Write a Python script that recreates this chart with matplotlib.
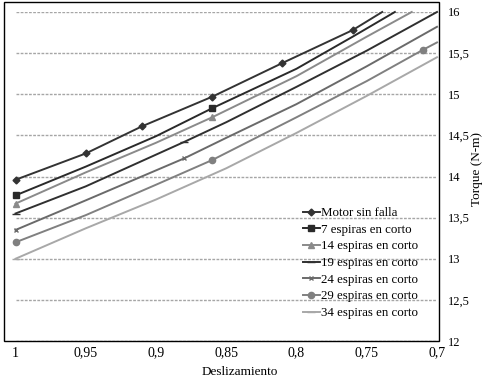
import matplotlib.pyplot as plt
from matplotlib.patches import Rectangle

plt.rcParams['font.family'] = ['Liberation Serif', 'DejaVu Serif']

# slip values and torque (N-m)
x_motor = [1, 0.95, 0.91, 0.86, 0.81, 0.76, 0.739]
y_motor = [13.96, 14.28, 14.61, 14.97, 15.38, 15.78, 16.0]

x_7 = [1, 0.95, 0.9, 0.86, 0.8, 0.76, 0.73]
y_7 = [13.77, 14.12, 14.49, 14.83, 15.31, 15.70, 16.0]

x_14 = [1, 0.95, 0.9, 0.86, 0.8, 0.75, 0.718]
y_14 = [13.67, 14.05, 14.41, 14.72, 15.22, 15.70, 16.0]

x_19 = [1, 0.95, 0.88, 0.85, 0.8, 0.75, 0.7]
y_19 = [13.55, 13.88, 14.42, 14.66, 15.09, 15.53, 16.0]

x_24 = [1, 0.95, 0.88, 0.85, 0.8, 0.75, 0.7]
y_24 = [13.35, 13.71, 14.22, 14.47, 14.88, 15.34, 15.82]

x_29 = [1, 0.95, 0.9, 0.86, 0.8, 0.75, 0.71, 0.7]
y_29 = [13.20, 13.53, 13.90, 14.20, 14.72, 15.16, 15.54, 15.63]

x_34 = [1, 0.95, 0.9, 0.85, 0.8, 0.75, 0.7]
y_34 = [13.00, 13.37, 13.72, 14.10, 14.53, 14.98, 15.45]

labels = ['Motor sin falla', '7 espiras en corto', '14 espiras en corto',
          '19 espiras en corto', '24 espiras en corto', '29 espiras en corto',
          '34 espiras en corto']
xticks = [1, 0.95, 0.9, 0.85, 0.8, 0.75, 0.7]
xtick_labels = ['1', '0,95', '0,9', '0,85', '0,8', '0,75', '0,7']
yticks = [12, 12.5, 13, 13.5, 14, 14.5, 15, 15.5, 16]
ytick_labels = ['12', '12,5', '13', '13,5', '14', '14,5', '15', '15,5', '16']

W, H = 487, 382
fig = plt.figure(figsize=(W / 100, H / 100), dpi=100)
ax = fig.add_axes([15.5 / W, (H - 341) / H, 421.5 / W, 329 / H])

series = [
    (x_motor, y_motor, '#333333', 'D', 3.5, [0, 1, 2, 3, 4, 5]),
    (x_7, y_7, '#2a2a2a', 's', 5, [0, 3]),
    (x_14, y_14, '#8a8a8a', '^', 4.5, [0, 3]),
    (x_19, y_19, '#303030', '_', 6, [0, 2]),
    (x_24, y_24, '#6a6a6a', 'x', 3.5, [0, 2]),
    (x_29, y_29, '#808080', 'o', 4.5, [0, 3, 6]),
    (x_34, y_34, '#a8a8a8', '_', 6, [0]),
]
for (xs, ys, c, m, ms, me), lab in zip(series, labels):
    ax.plot(xs, ys, color=c, lw=1.4, marker=m, markersize=ms, markevery=me,
            markeredgecolor=c, markerfacecolor=c, label=lab, clip_on=False)

ax.set_xlim(1, 0.7)
ax.set_ylim(12, 16)
ax.set_xticks(xticks)
ax.set_xticklabels(xtick_labels)
ax.set_yticks(yticks)
ax.set_yticklabels(ytick_labels)
ax.yaxis.tick_right()
ax.tick_params(axis='x', length=0, pad=4, labelsize=10)
ax.tick_params(axis='y', length=0, pad=8, labelsize=9)
for lbl in ax.get_yticklabels():
    lbl.set_horizontalalignment('left')
for s in ax.spines.values():
    s.set_visible(False)
ax.grid(axis='y', color='#a6a6a6', lw=1.0, ls=(0, (2, 1)))
ax.set_axisbelow(True)

fig.patches.append(Rectangle((4 / W, (H - 341) / H), 435 / W, 339 / H,
                             transform=fig.transFigure, fill=False,
                             edgecolor='black', lw=1.0))

fig.text(240 / W, (H - 372) / H, 'Deslizamiento', ha='center', va='center',
         fontsize=9.5)
fig.text(477 / W, (H - 169) / H, 'Torque (N-m)', ha='center', va='center',
         rotation=90, fontsize=9.5)

ax.legend(loc='upper left', bbox_to_anchor=(303 / W, (H - 207) / H),
          bbox_transform=fig.transFigure, frameon=False, fontsize=9.3,
          handlelength=1.3, handletextpad=0.1, labelspacing=0.36,
          borderpad=0, borderaxespad=0, numpoints=1)

fig.savefig('out.png', dpi=100)
